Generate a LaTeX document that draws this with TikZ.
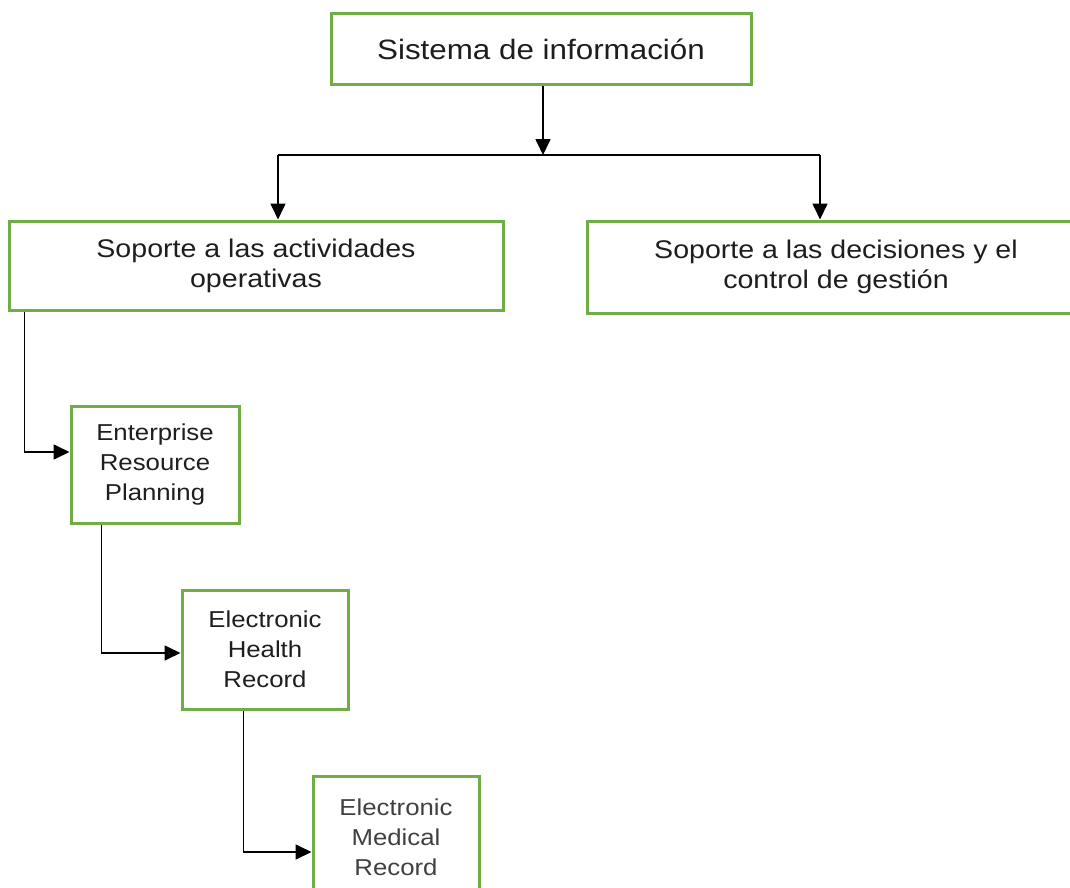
\documentclass[tikz,border=0pt]{standalone}
\usepackage{fontspec}
\setmainfont{Liberation Sans}[FakeStretch=1.12]
\usetikzlibrary{arrows.meta}
\definecolor{boxgreen}{HTML}{70AD47}
\definecolor{txt}{HTML}{1E1E1E}
\tikzset{
  gbox/.style={draw=boxgreen, line width=3pt, fill=white, align=center, text=txt, inner sep=0pt},
  bigtext/.style={font=\fontsize{25.5}{30}\selectfont},
  smalltext/.style={font=\fontsize{23}{30}\selectfont},
  conn/.style={draw=black, line width=1.7pt},
  arr/.style={conn, -{Triangle[length=16pt,width=15pt]}},
}
\begin{document}
\begin{tikzpicture}[x=1pt,y=-1pt]
\useasboundingbox (0,0) rectangle (1070,888);
\clip (0,0) rectangle (1070,888);
\fill[white] (0,0) rectangle (1070,888);

\node[gbox, minimum width=420pt, minimum height=71pt, font=\fontsize{28}{33}\selectfont] (top) at (541,49.5) {Sistema de información};
\node[gbox, bigtext, minimum width=494pt, minimum height=89pt] (left) at (256,265.5) {Soporte a las actividades\\operativas};
\node[gbox, bigtext, minimum width=498pt, minimum height=92pt] (right) at (836,267) {Soporte a las decisiones y el\\control de gestión};
\node[gbox, smalltext, minimum width=168pt, minimum height=117pt] (erp) at (155,464.5) {Enterprise\\Resource\\Planning};
\node[gbox, smalltext, minimum width=166pt, minimum height=119pt] (ehr) at (265,649.5) {Electronic\\Health\\Record};
\node[gbox, smalltext, minimum width=166pt, minimum height=122pt, text=txt!85] (emr) at (396,837) {Electronic\\Medical\\Record};

\coordinate (j) at (543,155);
\coordinate (hl) at (278,155);
\coordinate (hr) at (820,155);

\draw[arr] (top.south -| j) -- (j);
\draw[conn] (hl) -- (hr);
\draw[arr] (hl) -- (left.north -| hl);
\draw[arr] (hr) -- (right.north -| hr);

\draw[arr] ([xshift=17pt]left.south west) |- ([yshift=12.5pt]erp.west);
\draw[arr] ([xshift=32pt]erp.south west) |- ([yshift=-3.5pt]ehr.west);
\draw[arr] ([xshift=63pt]ehr.south west) |- ([yshift=-15pt]emr.west);
\end{tikzpicture}
\end{document}
